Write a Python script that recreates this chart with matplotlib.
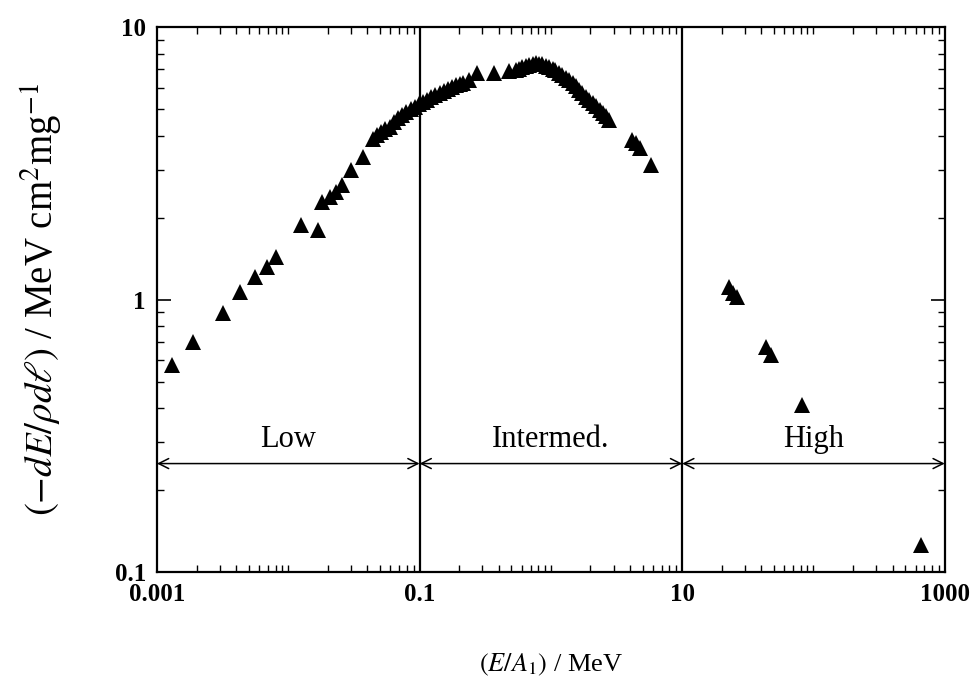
import matplotlib
matplotlib.use('Agg')
import matplotlib.pyplot as plt
from matplotlib.ticker import FixedLocator, NullFormatter

plt.rcParams['font.family'] = 'serif'
plt.rcParams['font.serif'] = ['Liberation Serif', 'DejaVu Serif']
plt.rcParams['mathtext.fontset'] = 'stix'

# stopping power points (E/A1 in MeV, -dE/rho dl)
low_x = [0.0013, 0.00188, 0.00316, 0.00428, 0.00556, 0.00683, 0.00813,
         0.0124, 0.0169, 0.0182, 0.0207, 0.0230, 0.0255, 0.0303, 0.0369,
         0.0442, 0.0475, 0.0512, 0.0550, 0.0592, 0.0635, 0.0684, 0.0735,
         0.0793, 0.0855, 0.0917, 0.0985]
low_y = [0.575, 0.70, 0.89, 1.07, 1.21, 1.32, 1.43,
         1.88, 1.80, 2.28, 2.38, 2.48, 2.63, 2.99, 3.34,
         3.90, 4.02, 4.13, 4.22, 4.31, 4.47, 4.62, 4.76,
         4.89, 5.00, 5.10, 5.22]

mid_x = [0.106, 0.114, 0.123, 0.132, 0.142, 0.153, 0.164, 0.177, 0.190,
         0.202, 0.213, 0.240, 0.276, 0.366, 0.484, 0.543, 0.575, 0.607,
         0.645, 0.687, 0.730, 0.772, 0.815, 0.861, 0.915, 0.975, 1.03,
         1.08, 1.15, 1.22, 1.30, 1.38, 1.47, 1.56, 1.65, 1.74, 1.85, 1.96,
         2.09, 2.22, 2.36, 2.51, 2.65, 2.79, 4.17, 4.48, 4.80, 5.81]
mid_y = [5.32, 5.42, 5.52, 5.62, 5.71, 5.81, 5.91, 6.02, 6.12,
         6.18, 6.25, 6.40, 6.78, 6.78, 6.90, 6.95, 7.04, 7.13,
         7.19, 7.25, 7.31, 7.36, 7.34, 7.31, 7.22, 7.13, 7.04,
         6.95, 6.81, 6.67, 6.53, 6.39, 6.23, 6.07, 5.90, 5.72, 5.56, 5.40,
         5.27, 5.13, 4.98, 4.84, 4.70, 4.56, 3.85, 3.75, 3.60, 3.12]

high_x = [22.8, 24.5, 26.2, 43.3, 47.3, 81.8, 656]
high_y = [1.11, 1.06, 1.02, 0.67, 0.625, 0.41, 0.126]

region_edges = [0.001, 0.1, 10, 1000]
region_names = ['Low', 'Intermed.', 'High']
region_label_x = [0.01, 1.0, 100]

fig = plt.figure(figsize=(9.75, 6.95), dpi=100)
ax = fig.add_axes([0.161, 0.177, 0.808, 0.784])

ax.plot(low_x + mid_x + high_x, low_y + mid_y + high_y, '^', color='k',
        markersize=11, markeredgewidth=0)

ax.set_xscale('log')
ax.set_yscale('log')
ax.set_xlim(0.001, 1000)
ax.set_ylim(0.1, 10)

for xv in region_edges[1:-1]:
    ax.axvline(xv, color='k', lw=1.6)

arrow_y = 0.25
for i, name in enumerate(region_names):
    ax.annotate('', xy=(region_edges[i + 1], arrow_y), xytext=(region_edges[i], arrow_y),
                arrowprops=dict(arrowstyle='<->', lw=1.1, color='k',
                                shrinkA=0, shrinkB=0, mutation_scale=18))
    ax.text(region_label_x[i], 0.272, name, ha='center', va='bottom', fontsize=22)

ax.set_xticks([0.001, 0.1, 10, 1000])
ax.xaxis.set_minor_locator(FixedLocator([m * 10.0 ** e for e in range(-3, 3)
                                         for m in range(1, 10)
                                         if not (m == 1 and e % 2 == 1)]))
ax.xaxis.set_minor_formatter(NullFormatter())
ax.set_xticklabels(['0.001', '0.1', '10', '1000'])
ax.set_yticks([0.1, 1, 10])
ax.set_yticklabels(['0.1', '1', '10'])
ax.yaxis.set_minor_formatter(NullFormatter())

ax.tick_params(which='both', direction='in', top=True, right=True)
ax.tick_params(which='major', length=10, width=1.2, labelsize=18, pad=8)
ax.tick_params(which='minor', length=5, width=1.0)
for lab in ax.get_xticklabels() + ax.get_yticklabels():
    lab.set_fontweight('bold')
for sp in ax.spines.values():
    sp.set_linewidth(1.6)

ax.set_xlabel(r'$(E/A_1)$ / MeV', fontsize=19, labelpad=33)
ax.set_ylabel(r'$(-dE/\rho d\ell)$ / MeV cm$^2$mg$^{-1}$', fontsize=28, labelpad=36)

fig.savefig('out.png', dpi=100)
